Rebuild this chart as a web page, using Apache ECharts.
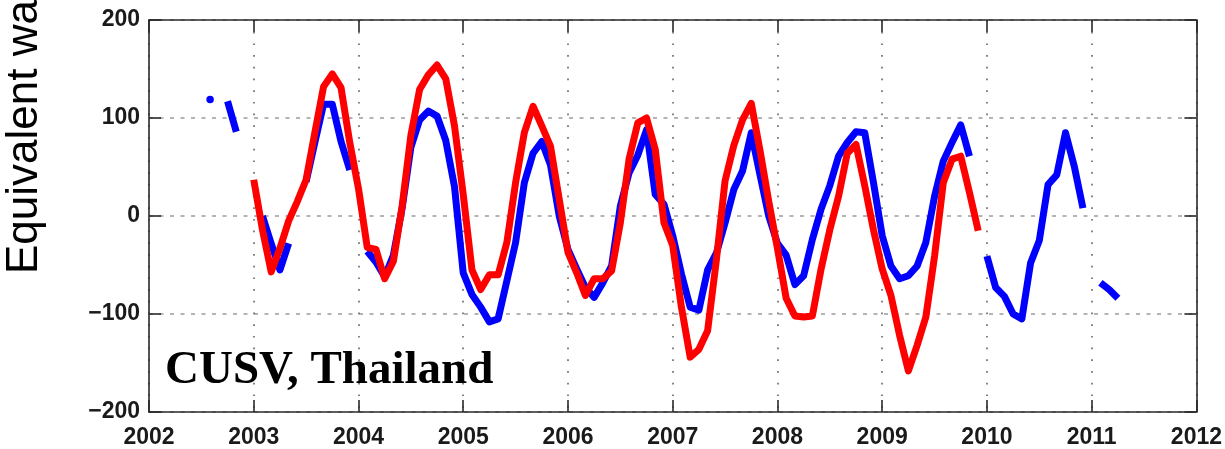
<!DOCTYPE html>
<html>
<head>
<meta charset="utf-8">
<title>CUSV, Thailand</title>
<script src="https://cdn.jsdelivr.net/npm/echarts@6/dist/echarts.min.js"></script>
<style>
  html, body { margin: 0; padding: 0; background: #fff; }
  #chart { width: 1225px; height: 449px; }
</style>
</head>
<body>
<div id="chart"></div>
<script>
// Monthly equivalent water height (mm), blue and red series.
// Month offsets are counted from January 2002; null marks a missing month.
const baseYear = 2002;
const blueFirstMonth = 7;
const blueValues = [
  119, null, 117, 86, null, null, 0, -28, -55, -28,
  null, 35, 75, 114, 114, 76, 47, null, -36, -47,
  -62, -40, 8, 70, 98, 107, 102, 77, 30, -58,
  -80, -93, -108, -105, -66, -27, 34, 64, 76, 52,
  0, -34, -54, -73, -83, -68, -51, 10, 44, 62,
  88, 22, 12, -20, -59, -93, -96, -55, -38, -7,
  27, 46, 85, 42, 0, -28, -40, -70, -61, -24,
  7, 31, 61, 75, 86, 85, 34, -20, -51, -64,
  -61, -51, -27, 20, 56, 75, 93, 61, null, -41,
  -73, -82, -100, -105, -48, -25, 32, 42, 85, 51,
  8, null, -68, -75, -84
];
const redFirstMonth = 12;
const redValues = [
  37, -14, -57, -33, -5, 15, 37, 85, 132, 145,
  131, 75, 28, -32, -34, -64, -46, 10, 82, 129,
  144, 154, 140, 92, 22, -55, -75, -60, -60, -27,
  34, 85, 112, 92, 71, 17, -37, -58, -81, -64,
  -64, -56, -7, 58, 95, 100, 68, -7, -30, -93,
  -144, -136, -117, -45, 36, 72, 98, 115, 67, 15,
  -33, -84, -102, -103, -102, -54, -14, 20, 64, 73,
  31, -14, -54, -81, -122, -158, -132, -103, -41, 34,
  58, 61, 24, -15
];
const yearTicks = [2002, 2003, 2004, 2005, 2006, 2007, 2008, 2009, 2010, 2011, 2012];
const valueTicks = [-200, -100, 0, 100, 200];
const siteLabel = 'CUSV, Thailand';
const yAxisTitle = 'Equivalent water height (mm)';

// Pair each monthly value with its decimal-year time; a point with no
// neighbours on either side gets a dot so it stays visible.
function toSeriesData(values, firstMonth) {
  return values.map((v, i) => {
    const t = baseYear + (firstMonth + i) / 12;
    const prev = i > 0 ? values[i - 1] : null;
    const next = i < values.length - 1 ? values[i + 1] : null;
    if (v !== null && prev === null && next === null) {
      return { value: [t, v], symbol: 'circle', symbolSize: 7.5 };
    }
    return { value: [t, v === null ? '-' : v], symbol: 'none' };
  });
}

const frameColor = '#2a2a2a';
const textColor = '#1a1a1a';
const tickFont = {
  fontFamily: 'Liberation Sans, Arial, sans-serif',
  fontSize: 23,
  fontWeight: 'bold',
  color: textColor
};

const xBase = {
  type: 'value',
  min: yearTicks[0],
  max: yearTicks[yearTicks.length - 1],
  interval: 1,
  axisLine: { show: true, onZero: false, lineStyle: { color: frameColor, width: 1.6 } },
  axisTick: { show: true, inside: true, length: 12, lineStyle: { color: frameColor, width: 1.6 } }
};
const yBase = {
  type: 'value',
  min: valueTicks[0],
  max: valueTicks[valueTicks.length - 1],
  interval: 100,
  axisLine: { show: true, lineStyle: { color: frameColor, width: 1.6 } },
  axisTick: { show: true, inside: true, length: 12, lineStyle: { color: frameColor, width: 1.6 } }
};

const chart = echarts.init(document.getElementById('chart'), null, { renderer: 'canvas' });
chart.setOption({
  animation: false,
  backgroundColor: '#ffffff',
  grid: { left: 149, right: 25, top: 20, bottom: 37, containLabel: false },
  xAxis: [
    Object.assign({}, xBase, {
      position: 'bottom',
      axisLabel: Object.assign({ margin: 14, formatter: v => String(v) }, tickFont),
      splitLine: { show: true, lineStyle: { color: '#6e6e6e', width: 1.7, type: [1.7, 10] } }
    }),
    Object.assign({}, xBase, {
      position: 'top',
      axisLabel: { show: false },
      splitLine: { show: false }
    })
  ],
  yAxis: [
    Object.assign({}, yBase, {
      position: 'left',
      axisLabel: Object.assign({ margin: 9, formatter: v => String(v).replace('-', '\u2212') }, tickFont),
      splitLine: { show: true, lineStyle: { color: '#b4b4b4', width: 2, type: [4, 6.5] } }
    }),
    Object.assign({}, yBase, {
      position: 'right',
      axisLabel: { show: false },
      splitLine: { show: false }
    })
  ],
  graphic: [
    {
      type: 'text',
      x: 47,
      y: 274,
      rotation: Math.PI / 2,
      style: {
        text: yAxisTitle,
        font: '44px "Liberation Sans", Arial, sans-serif',
        fill: '#000',
        textAlign: 'left',
        textVerticalAlign: 'bottom'
      }
    },
    {
      type: 'text',
      x: 165,
      y: 371,
      z: 100,
      style: {
        text: siteLabel,
        font: 'bold 47px "Liberation Serif", "Times New Roman", serif',
        fill: '#000',
        textAlign: 'left',
        textVerticalAlign: 'middle'
      }
    }
  ],
  series: [
    {
      name: 'blue',
      type: 'line',
      xAxisIndex: 0,
      yAxisIndex: 0,
      data: toSeriesData(blueValues, blueFirstMonth),
      showSymbol: true,
      connectNulls: false,
      itemStyle: { color: '#0000ff' },
      lineStyle: { color: '#0000ff', width: 7, cap: 'butt', join: 'round' },
      z: 2
    },
    {
      name: 'red',
      type: 'line',
      xAxisIndex: 0,
      yAxisIndex: 0,
      data: toSeriesData(redValues, redFirstMonth),
      showSymbol: true,
      connectNulls: false,
      itemStyle: { color: '#ff0000' },
      lineStyle: { color: '#ff0000', width: 7, cap: 'butt', join: 'round' },
      z: 3
    }
  ]
});
</script>
</body>
</html>
